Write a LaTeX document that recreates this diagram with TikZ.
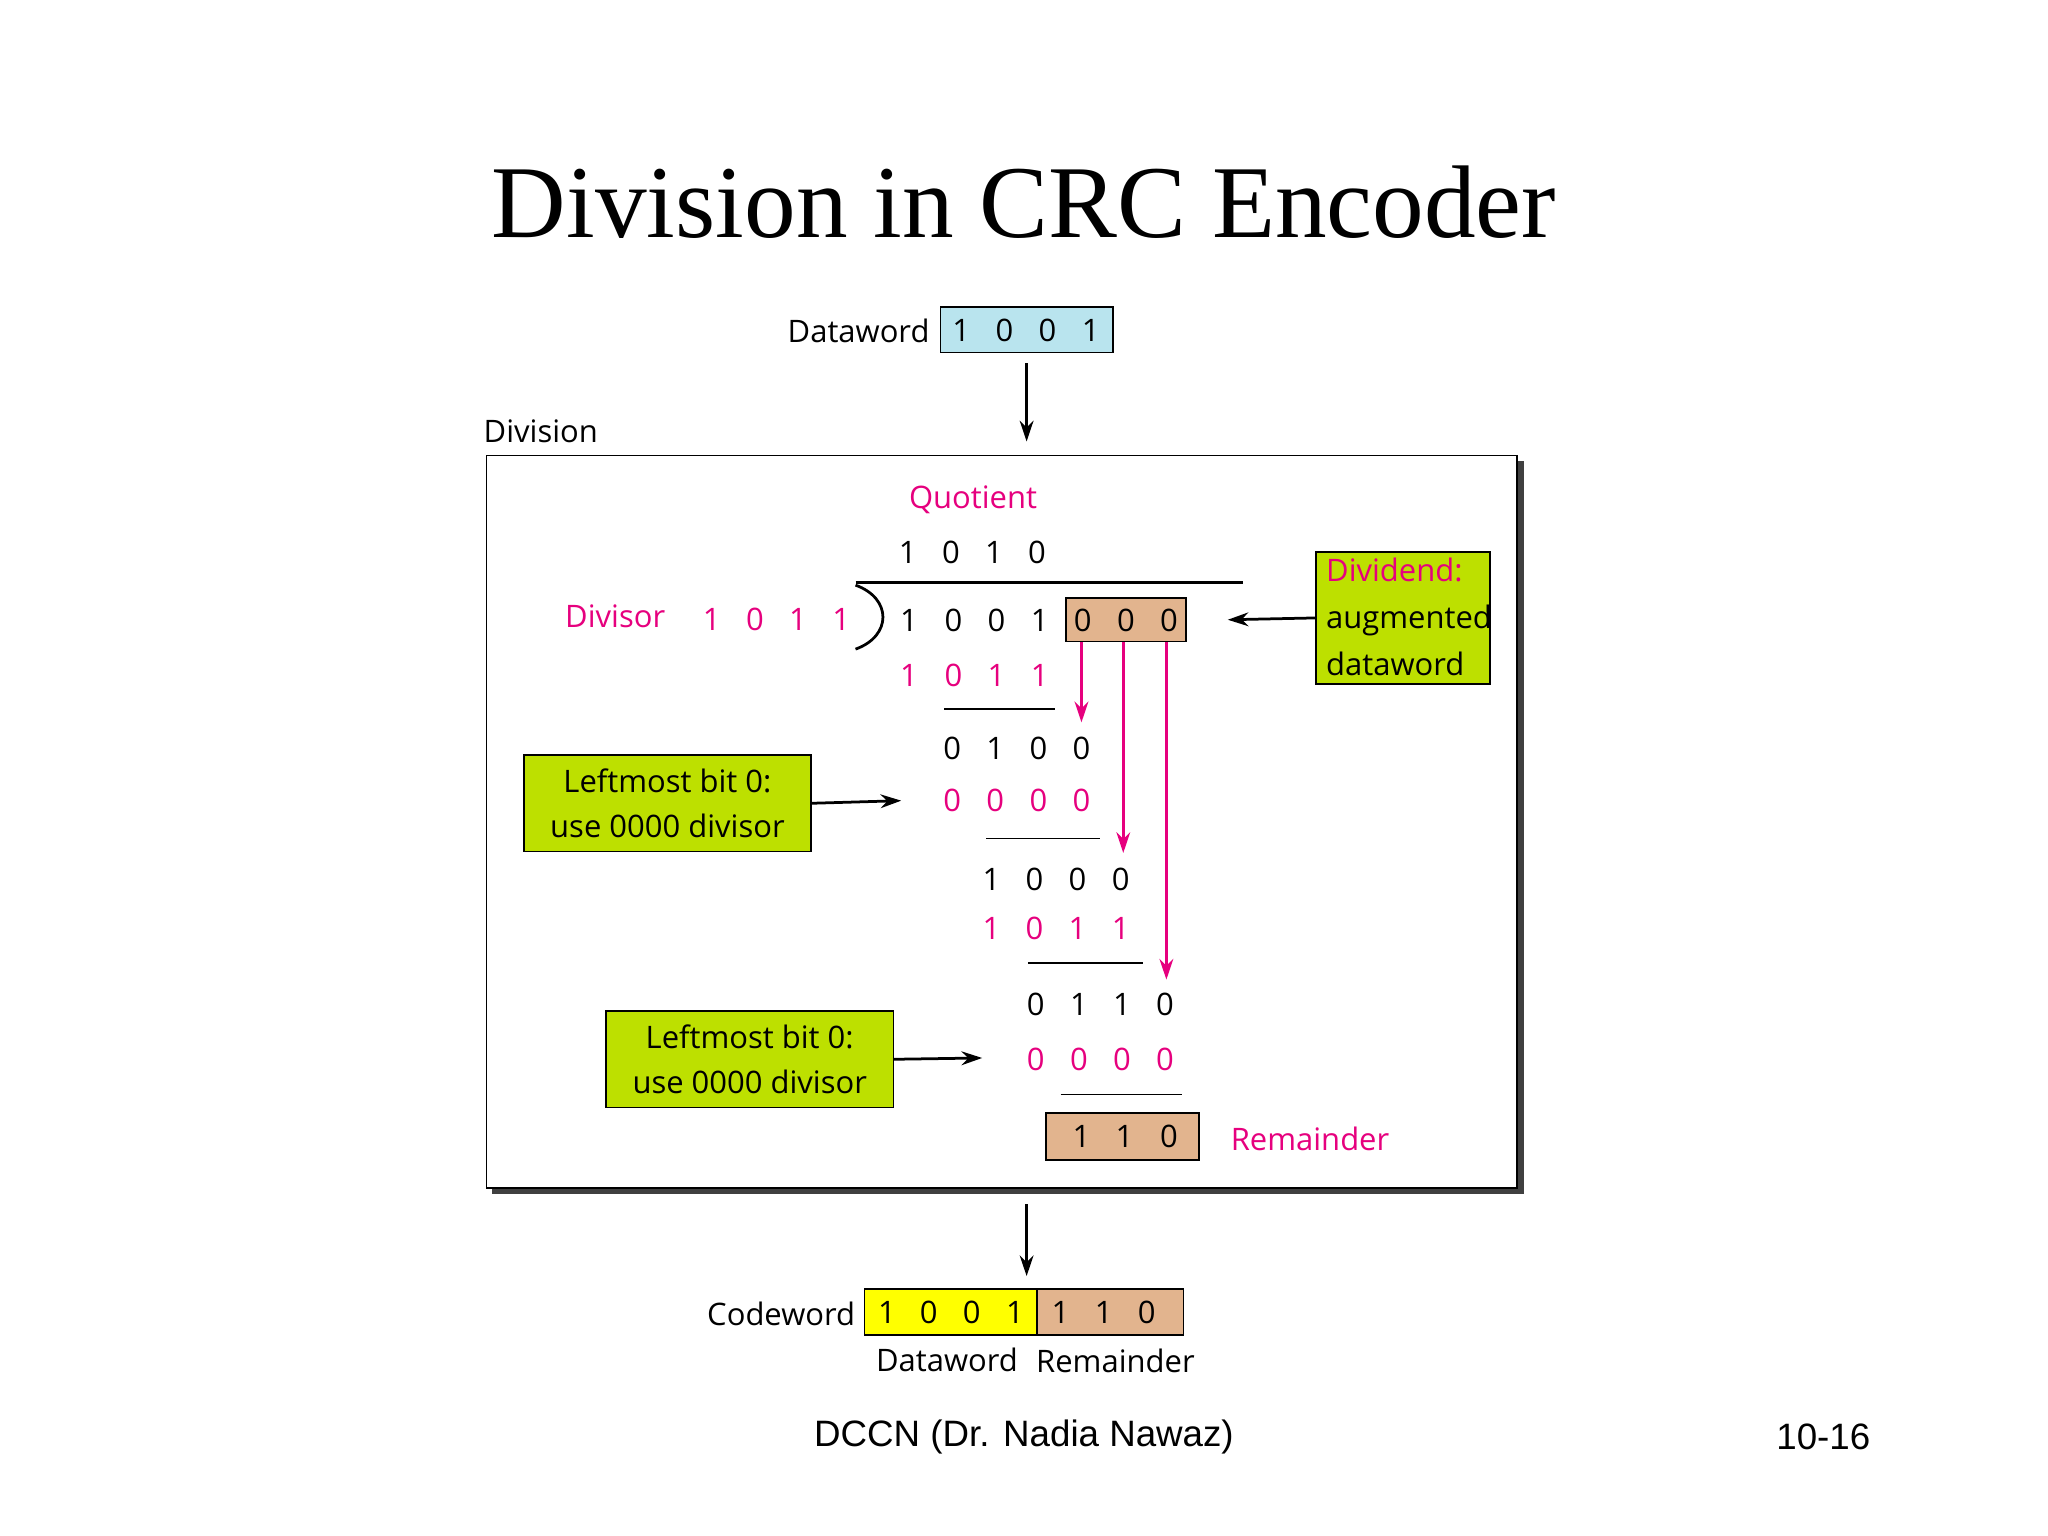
\documentclass[tikz,border=0pt]{standalone}
\usepackage{fontspec}
\setmainfont{Open Sans}
\newfontfamily\ttl{Liberation Serif}
\newfontfamily\arl{Liberation Sans}
\usetikzlibrary{arrows.meta}
\definecolor{mag}{HTML}{E6007E}
\definecolor{tan}{HTML}{E2B48E}
\definecolor{lblue}{HTML}{B9E4EE}
\definecolor{lime}{HTML}{BDE000}
\definecolor{yel}{HTML}{FFFF00}
\tikzset{
  t/.style={font=\fontsize{13.5}{16}\selectfont, inner sep=0pt},
  m/.style={t, text=mag},
  bx/.style={draw=black, line width=0.7pt},
  arr/.style={-{Stealth[length=9pt,width=6pt]}, line width=1.2pt},
  marr/.style={-{Stealth[length=9pt,width=6pt]}, line width=1.2pt, draw=mag},
  rule/.style={line width=0.8pt},
}
\newcommand{\digits}[5]{% y, list of x/d pairs, style, prefix
  \foreach \xx/\dd [count=\k] in {#2} {\node[#3] (#4\k) at (\xx,#1) {\dd};}}
\begin{document}
\begin{tikzpicture}[x=0.02cm,y=-0.02cm]
\useasboundingbox (0,0) rectangle (1568,1176);
\node[font=\ttl\fontsize{45}{50}\selectfont] (title) at (784,155) {Division in CRC Encoder};
% dataword
\node[bx, fill=lblue, minimum width=2.64cm, minimum height=0.7cm, inner sep=0pt] (dw) at (786,252.5) {};
\node[t, anchor=east] (dwl) at (712,253) {Dataword};
\digits{253}{736/1,769/0,802/0,835/1}{t}{dwd}{}
\coordinate (a1s) at (786,278); \coordinate (a1e) at (786,338);
\draw[arr] (a1s) -- (a1e);
\node[t, anchor=west] (divl) at (370,330) {Division};
% main box with shadow
\fill[black!75] (377,353) rectangle (1167,914);
\node[bx, fill=white, anchor=north west, minimum width=15.78cm, minimum height=11.22cm, inner sep=0pt] (main) at (372,348) {};
\node[m] (quot) at (745,383) {Quotient};
\digits{423}{695/1,728/0,761/1,794/0}{t}{q}{}
\coordinate (l0a) at (655,446); \coordinate (l0b) at (952,446);
\draw[rule, line width=1.2pt] (l0a) -- (l0b);
\coordinate (br1) at (655,448); \coordinate (br2) at (655,497);
\draw[line width=1.2pt] (br1) .. controls (683,458) and (683,487) .. (br2);
\node[m] (divsr) at (471,472) {Divisor};
\digits{474}{545/1,578/0,611/1,644/1}{m}{ds}{}
\digits{475}{696/1,730/0,763/0,796/1}{t}{dd}{}
\node[bx, fill=tan, minimum width=1.84cm, minimum height=0.66cm, inner sep=0pt] (aug) at (862,474.5) {};
\digits{475}{829/0,862/0,895/0}{t}{z}{}
\node[bx, fill=lime, anchor=north west, minimum width=2.66cm, minimum height=2.02cm, inner sep=0pt] (dvd) at (1007,422) {};
\node[t, anchor=west, align=left, font=\fontsize{13.5}{20.5}\selectfont] (dvdt) at (1015,472) {\textcolor{mag}{Dividend:}\\augmented\\dataword};
\draw[arr] (dvd.west) -- (aug.east -| 940,0);
\digits{517}{696/1,730/0,763/1,796/1}{m}{r1}{}
\coordinate (l1a) at (723,543); \coordinate (l1b) at (808,543); \draw[rule] (l1a) -- (l1b);
\digits{573}{729/0,762/1,795/0,828/0}{t}{r2}{}
\digits{613}{729/0,762/0,795/0,828/0}{m}{r3}{}
\coordinate (l2a) at (755,642); \coordinate (l2b) at (842,642); \draw[rule] (l2a) -- (l2b);
\digits{673}{759/1,792/0,825/0,858/0}{t}{r4}{}
\digits{711}{759/1,792/0,825/1,858/1}{m}{r5}{}
\coordinate (l3a) at (787,737); \coordinate (l3b) at (875,737); \draw[rule] (l3a) -- (l3b);
\digits{769}{793/0,826/1,859/1,892/0}{t}{r6}{}
\digits{811}{793/0,826/0,859/0,892/0}{m}{r7}{}
\coordinate (l4a) at (812,838); \coordinate (l4b) at (905,838); \draw[rule] (l4a) -- (l4b);
\node[bx, fill=tan, minimum width=2.34cm, minimum height=0.72cm, inner sep=0pt] (rem) at (859.5,870) {};
\digits{870}{828/1,861/1,895/0}{t}{rm}{}
\node[m] (reml) at (1003,872) {Remainder};
% magenta arrows
\coordinate (m1) at (828,553); \coordinate (m2) at (860,653); \coordinate (m3) at (893,750);
\draw[marr] (aug.south -| 828,0) -- (m1);
\draw[marr] (aug.south -| 860,0) -- (m2);
\draw[marr] (aug.south -| 893,0) -- (m3);
% green boxes
\node[bx, fill=lime, minimum width=4.4cm, minimum height=1.48cm, inner sep=0pt, align=center, font=\fontsize{13.5}{20}\selectfont] (g1) at (511,615) {Leftmost bit 0:\\use 0000 divisor};
\coordinate (g1e) at (690,613); \draw[arr] (g1.east) -- (g1e);
\node[bx, fill=lime, minimum width=4.4cm, minimum height=1.48cm, inner sep=0pt, align=center, font=\fontsize{13.5}{20}\selectfont] (g2) at (574,811) {Leftmost bit 0:\\use 0000 divisor};
\coordinate (g2e) at (752,810); \draw[arr] (g2.east) -- (g2e);
% codeword
\coordinate (a2s) at (786,922); \coordinate (a2e) at (786,977);
\draw[arr] (a2s) -- (a2e);
\node[bx, fill=yel, minimum width=2.64cm, minimum height=0.7cm, inner sep=0pt] (cw1) at (728,1004.5) {};
\node[bx, fill=tan, minimum width=2.24cm, minimum height=0.7cm, inner sep=0pt] (cw2) at (850,1004.5) {};
\node[t, anchor=east] (cwl) at (655,1006) {Codeword};
\digits{1005}{679/1,711/0,744/0,777/1}{t}{c1}{}
\digits{1005}{812/1,845/1,878/0}{t}{c2}{}
\node[t] (cwd) at (725,1041) {Dataword};
\node[t] (cwr) at (854,1042) {Remainder};
% footer
\node[font=\arl\fontsize{16}{19}\selectfont] (foot) at (784,1100) {DCCN (Dr. Nadia Nawaz)};
\node[font=\arl\fontsize{16}{19}\selectfont] (pg) at (1396,1100) {10-16};
\end{tikzpicture}
\end{document}
